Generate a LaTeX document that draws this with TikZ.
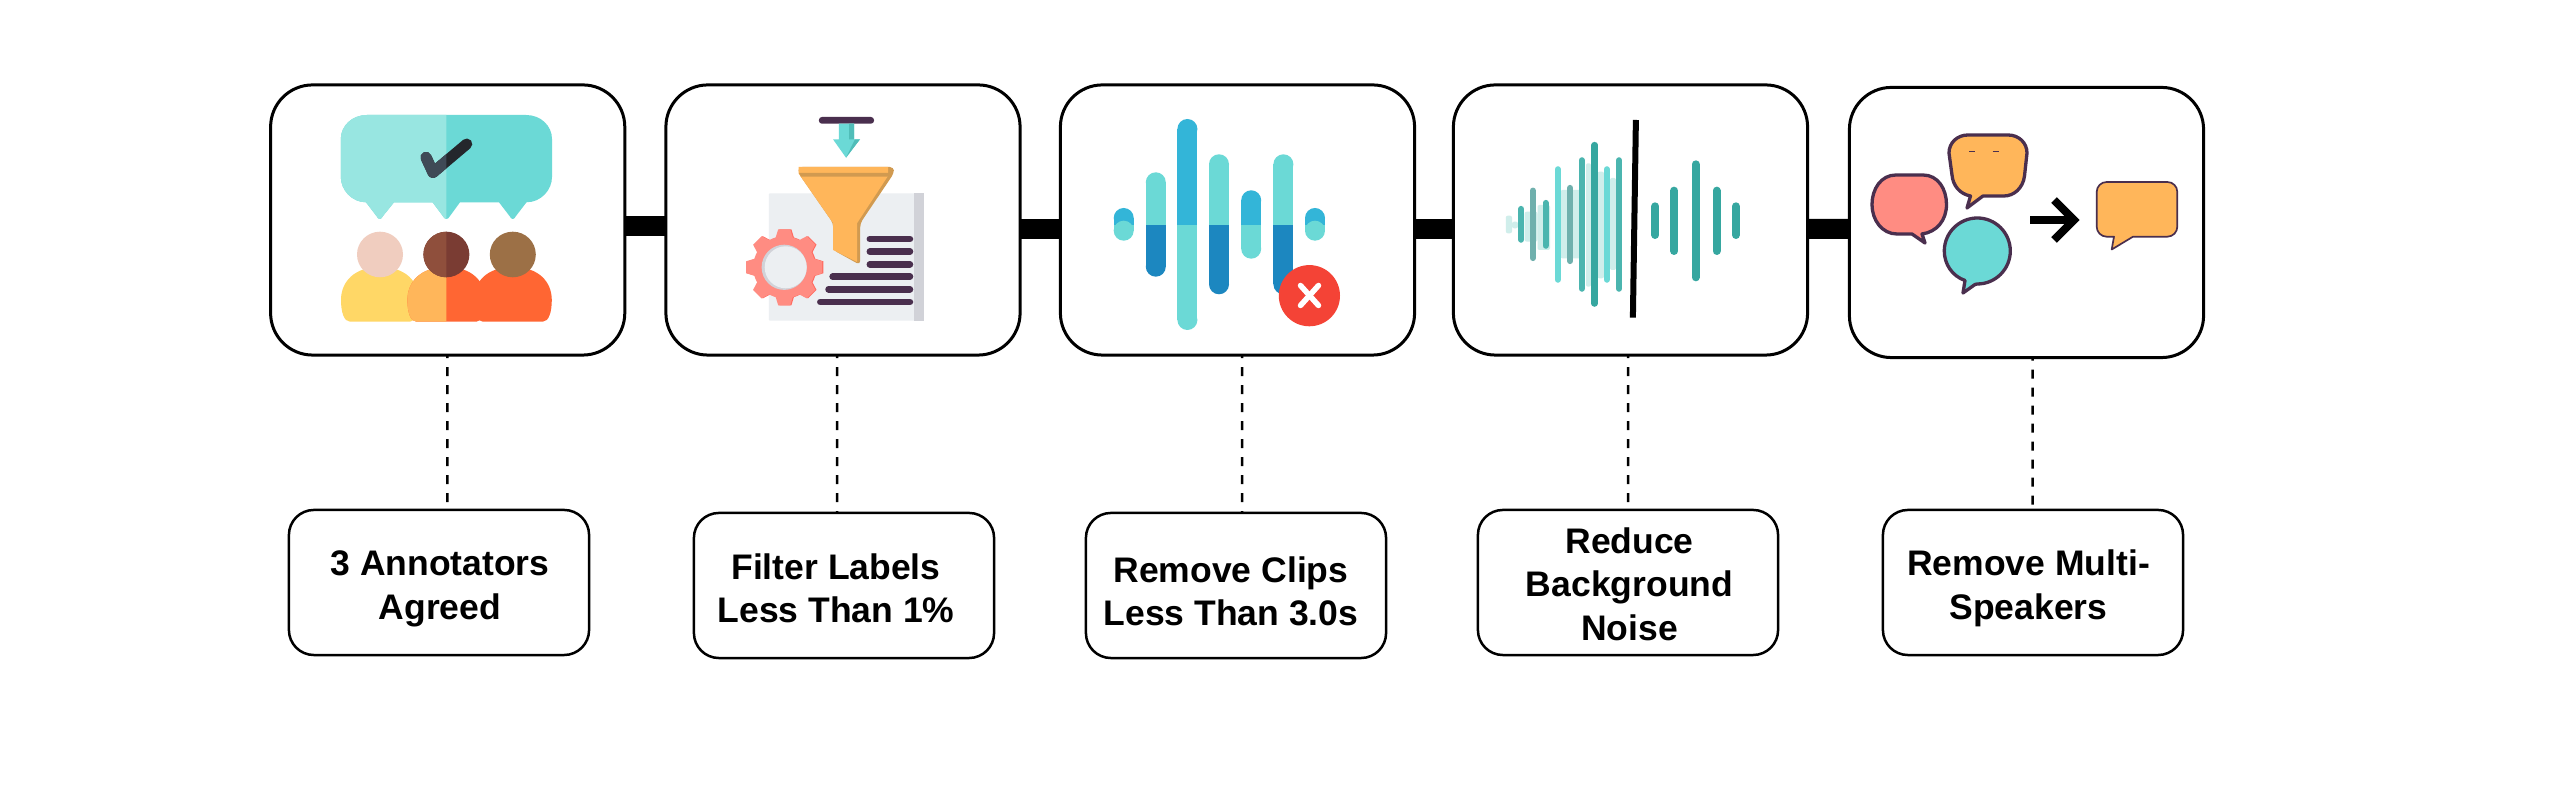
\documentclass[tikz,border=0pt]{standalone}
\usepackage{fontspec}
\setmainfont{Liberation Sans}
\definecolor{tealA}{HTML}{6BD9D6}
\definecolor{tealB}{HTML}{98E6E1}
\definecolor{tealC}{HTML}{36A7A0}
\definecolor{tealD}{HTML}{4BB5AF}
\definecolor{tealE}{HTML}{6FB0AD}
\definecolor{tealP}{HTML}{D0EEEB}
\definecolor{tealS}{HTML}{50BDB8}
\definecolor{blueA}{HTML}{33B5D8}
\definecolor{blueB}{HTML}{1C87C0}
\definecolor{plum}{HTML}{4A2F4E}
\definecolor{orangeA}{HTML}{FFB65A}
\definecolor{orangeS}{HTML}{D19A50}
\definecolor{orangeB}{HTML}{FF6633}
\definecolor{yellowA}{HTML}{FFD766}
\definecolor{pinkA}{HTML}{FF8C82}
\definecolor{pinkB}{HTML}{FF6B61}
\definecolor{paperA}{HTML}{ECEFF2}
\definecolor{paperB}{HTML}{D1D2D8}
\definecolor{redA}{HTML}{F44336}
\definecolor{skinA}{HTML}{F0CDBF}
\definecolor{skinB}{HTML}{8F4F3C}
\definecolor{skinC}{HTML}{7A3C33}
\definecolor{skinD}{HTML}{9C7046}
\definecolor{checkA}{HTML}{3F4A56}
\definecolor{checkB}{HTML}{24272C}
\tikzset{
  bigbox/.style={draw=black,fill=white,line width=0.03cm,rounded corners=0.42cm,minimum width=3.54cm,minimum height=2.7cm,inner sep=0pt,outer sep=0pt},
  capbox/.style={draw=black,fill=white,line width=0.025cm,rounded corners=0.25cm,minimum width=3cm,minimum height=1.45cm,inner sep=0pt,outer sep=0pt},
  lbl/.style={align=center,inner sep=0pt,outer sep=0pt,font=\fontsize{10.1}{12.4}\selectfont\bfseries},
  flow/.style={draw=black,line width=0.2cm},
  drop/.style={draw=black,line width=0.025cm,dash pattern=on 0.09cm off 0.09cm,dash phase=0.06cm},
  talk/.style={draw=plum,line width=0.033cm,line join=round}
}
\begin{document}
\begin{tikzpicture}[x=0.01cm,y=-0.01cm]
\useasboundingbox (0,0) rectangle (2571,792);
% main boxes
\node[bigbox] (b1) at (447.7,220) {};
\node[bigbox] (b2) at (843,220) {};
\node[bigbox] (b3) at (1237.5,220) {};
\node[bigbox] (b4) at (1630.5,220) {};
\node[bigbox] (b5) at (2026.5,222.5) {};
% caption boxes
\node[capbox] (t1) at (439,582.5) {};
\node[capbox] (t2) at (844,585.5) {};
\node[capbox] (t3) at (1236,585.5) {};
\node[capbox] (t4) at (1628,582.5) {};
\node[capbox] (t5) at (2033,582.5) {};
% caption texts
\node[lbl] (l1) at (440,589) {3 Annotators\\Agreed};
\node[lbl] (l2) at (836,588.5) {Filter Labels\\Less Than 1\%};
\node[lbl] (l3) at (1231,591.5) {Remove Clips\\Less Than 3.0s};
\node[lbl] (l4) at (1629.5,584) {Reduce\\Background\\Noise};
\node[lbl] (l5) at (2028.5,588.5) {Remove Multi-\\Speakers};
% thick connectors
\draw[flow] ([yshift=-0.06cm]b1.east) -- ([yshift=-0.06cm]b2.west);
\draw[flow] ([yshift=-0.09cm]b2.east) -- ([yshift=-0.09cm]b3.west);
\draw[flow] ([yshift=-0.09cm]b3.east) -- ([yshift=-0.09cm]b4.west);
\draw[flow] ([yshift=-0.09cm]b4.east) -- ([yshift=-0.065cm]b5.west);
% dashed connectors
\draw[drop] ([xshift=-0.004cm]b1.south) -- ([xshift=0.083cm]t1.north);
\draw[drop] ([xshift=-0.06cm]b2.south) -- ([xshift=-0.07cm]t2.north);
\draw[drop] ([xshift=0.045cm]b3.south) -- ([xshift=0.06cm]t3.north);
\draw[drop] ([xshift=-0.025cm]b4.south) -- (t4.north);
\draw[drop] ([xshift=0.06cm]b5.south) -- ([xshift=-0.005cm]t5.north);
% ---------- icon 1
\def\bubblepath{(367,115) -- (526,115) .. controls (541,115) and (552,126) .. (552,139) -- (552,177) .. controls (552,190) and (541,202.3) .. (526.5,202.3) -- (516,216) .. controls (514,220) and (511.5,220) .. (509.5,216) -- (499,202.3) -- (460,202.3) -- (450,216) .. controls (448,220) and (444.8,220) .. (442.8,216) -- (432.6,202.3) -- (394,202.3) -- (383,216) .. controls (381,220) and (378.5,220) .. (376.5,216) -- (366,202.3) .. controls (352,202.3) and (340.8,190) .. (340.8,177) -- (340.8,139) .. controls (340.8,126) and (352,115) .. (367,115) -- cycle}
\fill[tealA] \bubblepath;
\begin{scope}
\clip (300,100) rectangle (446.4,230);
\fill[tealB] \bubblepath;
\end{scope}
\draw[checkB,line width=0.11cm,line cap=round,line join=round] (426,157.3) -- (433,172.5) -- (466.8,144);
\begin{scope}
\clip (400,130) rectangle (446.4,190);
\draw[checkA,line width=0.11cm,line cap=round,line join=round] (426,157.3) -- (433,172.5) -- (466.8,144);
\end{scope}
\def\bodypath{(-30,321.7) .. controls (-36,321.7) and (-39,312) .. (-39,300) .. controls (-39,282) and (-26,267) .. (0,267) .. controls (26,267) and (39,282) .. (39,300) .. controls (39,312) and (36,321.7) .. (30,321.7) -- cycle}
\fill[yellowA,shift={(380,0)}] \bodypath;
\fill[orangeB,shift={(512.8,0)}] \bodypath;
\fill[orangeB,shift={(446.4,0)}] \bodypath;
\begin{scope}
\clip (400,250) rectangle (446.4,330);
\fill[orangeA,shift={(446.4,0)}] \bodypath;
\end{scope}
\fill[skinA] (380,254.5) circle [x radius=23,y radius=22.8];
\fill[skinC] (446.4,254.5) circle [x radius=23,y radius=22.8];
\begin{scope}
\clip (400,220) rectangle (446.4,290);
\fill[skinB] (446.4,254.5) circle [x radius=23,y radius=22.8];
\end{scope}
\fill[skinD] (512.8,254.5) circle [x radius=23,y radius=22.8];
% ---------- icon 2
\fill[plum,rounded corners=0.03cm] (818.9,117) rectangle (874,123.7);
\fill[tealA] (838.8,123.7) -- (854,123.7) -- (854,139.3) -- (860,139.3) -- (846,157.7) -- (833,139.3) -- (838.8,139.3) -- cycle;
\fill[tealS] (849,123.7) -- (854,123.7) -- (854,139.3) -- (860,139.3) -- (846,157.7) -- (855,139.3) -- (849,139.3) -- cycle;
\fill[paperA,rounded corners=0.01cm] (768.9,193.3) rectangle (923.5,320.7);
\fill[paperB] (914,193.3) rectangle (923.5,320.7);
\foreach \yy/\xl in {239/866.8,251.7/866.8,264.3/866.8,276.7/829.6,289.3/825.5,302/817.3}{
  \draw[plum,line width=0.065cm,line cap=round] (\xl+3,\yy) -- (910,\yy);
}
\fill[orangeS,rounded corners=0.04cm] (798.5,167) -- (893.9,167) -- (893.9,173.3) -- (860.2,223.3) -- (860.2,265) -- (833.2,250) -- (833.2,223.3) -- (798.5,173.3) -- cycle;
\fill[orangeA] (798.5,167) -- (888,167) -- (888,176) -- (857,223.3) -- (857,262) -- (833.2,250) -- (833.2,223.3) -- (798.5,173.3) -- cycle;
\fill[orangeS] (799,173) -- (893,173) -- (890,176.7) -- (801,176.7) -- cycle;
\begin{scope}[shift={(785.4,267.3)}]
\foreach \a in {0,45,...,315}{\fill[pinkB,rotate=\a] (-6,-38) -- (6,-38) -- (10,-25) -- (-10,-25) -- cycle;}
\fill[pinkB] (0,0) circle [radius=31];
\end{scope}
\begin{scope}[shift={(784.2,267.3)}]
\foreach \a in {0,45,...,315}{\fill[pinkA,rotate=\a] (-6,-38) -- (6,-38) -- (10,-25) -- (-10,-25) -- cycle;}
\fill[pinkA] (0,0) circle [radius=31];
\fill[paperB] (0,0) circle [radius=22.6];
\fill[paperA] (1.5,0) circle [radius=21];
\end{scope}
% ---------- icon 3
\foreach \xx/\tp/\bt/\ca/\cb in {1123.7/208/240.7/blueA/tealA,1155.8/172.3/276.7/tealA/blueB,1187.4/119/330/blueA/tealA,1219/154.3/294.3/tealA/blueB,1251.2/190.3/258.7/blueA/tealA,1283.4/154.3/294.3/tealA/blueB,1315/208/240.7/blueA/tealA}{
  \pgfmathsetmacro\ytp{\tp+10}
  \pgfmathsetmacro\ybt{\bt-10}
  \pgfmathsetmacro\xlf{\xx-10}
  \pgfmathsetmacro\xrt{\xx+10}
  \fill[\ca] (\xx,\ytp) circle [radius=10];
  \fill[\ca] (\xlf,\ytp) rectangle (\xrt,224.7);
  \fill[\cb] (\xx,\ybt) circle [radius=10];
  \fill[\cb] (\xlf,224.7) rectangle (\xrt,\ybt);
}
\fill[redA] (1309.4,295.7) circle [radius=30.6];
\draw[white,line width=0.055cm,line cap=round] (1300.5,285.5) -- (1318.5,305.5);
\draw[white,line width=0.055cm,line cap=round] (1318.5,285.5) -- (1300.5,305.5);
% ---------- icon 4
\foreach \xl/\xr/\tp/\bt in {1505.8/1512/215.7/233.3,1512/1518/221.7/228.3,1524.7/1537.5/211.7/241.7,1537.5/1550/205/250,1560.5/1581/190/258.3,1586/1591/163.3/286.7,1597.5/1604/171.7/278.3,1610/1616/178/270}{
  \fill[tealP,rounded corners=0.02cm] (\xl,\tp) rectangle (\xr,\bt);
}
\foreach \zx/\tp/\bt/\cc in {943/408/518/tealD,966/353/573/tealE,991/390/536/tealD,1015/289/638/tealA,1039/345/582/tealE,1062/262/665/tealD,1087/216/710/tealC,1111/289/638/tealA,1135/262/665/tealD}{
  \pgfmathsetmacro\xm{1040+\zx/1.96}
  \pgfmathsetmacro\ya{70+\tp/3+3}
  \pgfmathsetmacro\yb{70+\bt/3-3}
  \draw[\cc,line width=0.062cm,line cap=round] (\xm,\ya) -- (\xm,\yb);
}
\foreach \zx/\tp/\bt in {1206/397/507,1243/350/555,1285/271/634,1326/350/555,1364/397/507}{
  \pgfmathsetmacro\xm{1040+\zx/1.96}
  \pgfmathsetmacro\ya{70+\tp/3+4}
  \pgfmathsetmacro\yb{70+\bt/3-4}
  \draw[tealC,line width=0.08cm,line cap=round] (\xm,\ya) -- (\xm,\yb);
}
\draw[black,line width=0.06cm] (1635.9,120) -- (1632.9,317.7);
% ---------- icon 5
\fill[talk,fill=pinkA] (1896,175) -- (1923,175) .. controls (1938,175) and (1946.5,189) .. (1946.5,204.5) .. controls (1946.5,220) and (1937,232) .. (1922,234) -- (1925,243) -- (1912,234) -- (1897,234) .. controls (1882,234) and (1872,220) .. (1872,204.5) .. controls (1872,189) and (1881,175) .. (1896,175) -- cycle;
\fill[talk,fill=orangeA] (1968,135) -- (2008,135) .. controls (2019,135) and (2027,143) .. (2027,153) -- (2024.5,176) .. controls (2023,188) and (2014,196) .. (2004,196) -- (1983,196) -- (1967,208) -- (1970.5,196) .. controls (1960,194) and (1953,186) .. (1952,175) -- (1949,153) .. controls (1949,143) and (1957,135) .. (1968,135) -- cycle;
\draw[plum,line width=0.006cm] (1969,151) -- (1975,151) (1992.7,151) -- (1999,151);
\fill[talk,fill=tealA] (1977.3,218) .. controls (1995.5,218) and (2010.3,232.8) .. (2010.3,251) .. controls (2010.3,269.2) and (1995.5,284) .. (1977.3,284) -- (1975,284.5) -- (1963,293) -- (1965,280.5) .. controls (1952,276) and (1944.3,264) .. (1944.3,251) .. controls (1944.3,232.8) and (1959.1,218) .. (1977.3,218) -- cycle;
\draw[black,line width=0.08cm] (2030,220) -- (2073,220);
\draw[black,line width=0.08cm,line join=miter] (2054,200) -- (2074,220) -- (2054,240);
\fill[draw=plum,line width=0.017cm,fill=orangeA,line join=round] (2106.7,182) -- (2167.3,182) .. controls (2173,182) and (2177.3,186.5) .. (2177.3,192) -- (2177.3,226.7) .. controls (2177.3,232) and (2173,236.7) .. (2167.3,236.7) -- (2133,236.7) -- (2111.7,249.5) -- (2114,236.7) -- (2106.7,236.7) .. controls (2101,236.7) and (2096.7,232) .. (2096.7,226.7) -- (2096.7,192) .. controls (2096.7,186.5) and (2101,182) .. (2106.7,182) -- cycle;
\end{tikzpicture}
\end{document}
